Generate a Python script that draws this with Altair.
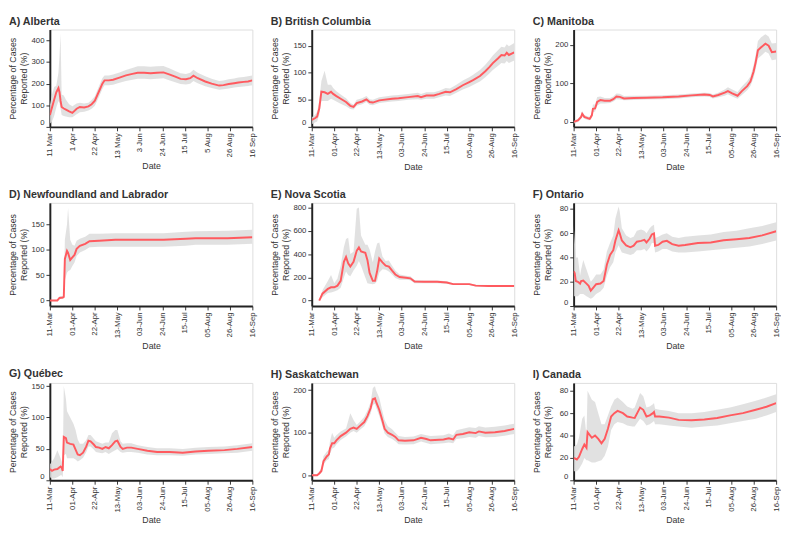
import altair as alt
import pandas as pd

YEAR = 2020
X_START = (3, 11)
X_END = (9, 16)
TICK_DATES = [(3, 11), (4, 1), (4, 22), (5, 13), (6, 3), (6, 24), (7, 15), (8, 5), (8, 26), (9, 16)]
Y_TITLE = ["Percentage of Cases", "Reported (%)"]

# ---------------- A) Alberta ----------------
ab_dates = ["03-11", "03-13", "03-15", "03-17", "03-19", "03-20", "03-21", "03-22", "03-24", "03-26", "03-29",
            "04-01", "04-05", "04-08", "04-12", "04-16", "04-19", "04-22", "04-26", "04-29",
            "05-01", "05-05", "05-09", "05-15", "05-21", "05-27",
            "06-01", "06-07", "06-13", "06-19", "06-25",
            "07-01", "07-06", "07-11", "07-16", "07-20", "07-23", "07-27",
            "08-03", "08-09", "08-16", "08-20", "08-25", "08-30",
            "09-03", "09-08", "09-12", "09-16"]
ab_mean = [55, 90, 125, 160, 180, 160, 120, 92, 85, 80, 72,
           65, 84, 92, 90, 95, 105, 121, 166, 200,
           215, 215, 218, 228, 238, 245,
           250, 250, 248, 250, 252,
           242, 232, 222, 220, 225, 237, 225,
           210, 200, 191, 193, 198, 202,
           205, 208, 210, 215]
ab_lo = [15, 25, 50, 90, 120, 110, 85, 55, 50, 48, 45,
         45, 58, 68, 70, 76, 84, 98, 140, 175,
         192, 192, 195, 204, 212, 218,
         222, 222, 220, 222, 225,
         215, 206, 198, 196, 200, 212, 202,
         188, 180, 172, 174, 178, 182,
         184, 187, 189, 193]
ab_hi = [100, 150, 185, 190, 250, 330, 430, 150, 145, 125, 105,
         95, 108, 112, 108, 112, 124, 142, 190, 225,
         238, 238, 242, 252, 263, 272,
         280, 280, 278, 280, 282,
         270, 258, 248, 245, 250, 264, 250,
         234, 222, 212, 214, 220, 224,
         228, 231, 234, 238]

# ---------------- B) British Columbia ----------------
bc_dates = ["03-11", "03-14", "03-16", "03-18", "03-20", "03-23", "03-26", "03-29", "03-31",
            "04-03", "04-07", "04-12", "04-16", "04-19", "04-22", "04-27",
            "05-01", "05-04", "05-07", "05-13", "05-25", "05-31",
            "06-09", "06-18", "06-21", "06-26",
            "07-03", "07-08", "07-14", "07-18", "07-24", "07-30",
            "08-05", "08-09", "08-15", "08-20", "08-24", "08-27",
            "09-01", "09-04", "09-07", "09-09", "09-11", "09-16"]
bc_mean = [13, 16, 19, 34, 65, 64, 61, 65, 61,
           57, 52, 46, 39, 37, 44, 47,
           51, 46, 45, 49, 52, 53,
           55, 57, 55, 58,
           58, 61, 65, 64, 70, 77,
           83, 87, 94, 103, 111, 118,
           127, 133, 132, 137, 133, 138]
bc_lo = [5, 8, 10, 22, 48, 48, 48, 52, 50,
         47, 43, 38, 33, 32, 39, 42,
         46, 41, 40, 44, 47, 48,
         50, 51, 50, 52,
         52, 55, 58, 57, 63, 69,
         74, 78, 84, 92, 99, 105,
         113, 118, 117, 122, 118, 123]
bc_hi = [18, 22, 28, 48, 85, 104, 78, 78, 72,
         66, 60, 53, 44, 41, 50, 53,
         57, 51, 50, 55, 58, 59,
         61, 63, 61, 64,
         64, 67, 72, 71, 78, 86,
         92, 97, 105, 115, 124, 132,
         142, 148, 147, 153, 149, 155]

# ---------------- C) Manitoba ----------------
mb_dates = ["03-11", "03-15", "03-18", "03-19", "03-21", "03-24", "03-26", "03-28", "03-29", "03-31",
            "04-02", "04-05", "04-09", "04-14", "04-17", "04-20", "04-23", "04-27",
            "05-06", "05-18",
            "06-02", "06-17", "06-29",
            "07-11", "07-16", "07-19", "07-24", "07-30",
            "08-02", "08-06", "08-11", "08-15", "08-20", "08-23", "08-26", "08-28", "08-30",
            "09-02", "09-06", "09-09", "09-12", "09-16"]
mb_mean = [0, 4, 13, 21, 13, 10, 8, 17, 34, 35,
           52, 57, 55, 55, 59, 66, 65, 61,
           62, 63,
           64, 66, 69,
           71, 70, 66, 70, 76,
           80, 74, 68, 80, 93, 105, 131, 156, 186,
           194, 203, 198, 181, 183]
mb_lo = [-5, 0, 8, 15, 8, 5, 4, 10, 25, 27,
         42, 48, 48, 49, 53, 59, 58, 56,
         57, 58,
         59, 61, 64,
         66, 65, 61, 64, 68,
         72, 66, 60, 70, 82, 93, 115, 138, 165,
         172, 182, 178, 160, 162]
mb_hi = [2, 8, 18, 28, 18, 15, 12, 25, 45, 45,
         65, 66, 62, 62, 66, 74, 73, 67,
         68, 68,
         69, 71, 74,
         76, 75, 71, 76, 84,
         90, 84, 78, 92, 106, 118, 148, 175, 210,
         220, 228, 222, 204, 205]

# ---------------- D) Newfoundland and Labrador ----------------
nl_dates = ["03-11", "03-18", "03-20", "03-23", "03-24", "03-25", "03-27", "03-28", "03-30",
            "04-01", "04-03", "04-05", "04-08", "04-13", "04-17", "04-26",
            "05-11", "06-01", "06-25", "07-16", "07-25", "08-24", "09-16"]
nl_mean = [0, 0, 5, 6, 7, 82, 98, 94, 80,
           85, 90, 102, 108, 112, 117, 118,
           120, 120, 120, 122, 123, 123, 125]
nl_lo = [0, 0, 3, 3, 4, 40, 55, 58, 60,
         68, 75, 88, 95, 100, 105, 106,
         106, 106, 106, 108, 110, 110, 112]
nl_hi = [1, 1, 8, 9, 10, 120, 150, 183, 120,
         110, 108, 118, 122, 126, 132, 132,
         133, 133, 133, 136, 137, 138, 140]

# ---------------- E) Nova Scotia ----------------
ns_dates = ["03-18", "03-21", "03-26", "03-29",
            "04-01", "04-04", "04-07", "04-10", "04-12", "04-14", "04-16", "04-19", "04-22", "04-24", "04-26", "04-30",
            "05-02", "05-04", "05-07", "05-09", "05-11", "05-13", "05-16", "05-19", "05-22", "05-25", "05-28",
            "06-01", "06-07", "06-11", "06-15", "06-24",
            "07-06", "07-15", "07-21",
            "08-05", "08-11", "08-23",
            "09-16"]
ns_mean = [0, 60, 101, 115,
           115, 129, 170, 334, 375, 320, 293, 334, 430, 458, 422, 411,
           348, 238, 170, 170, 252, 362, 329, 301, 293, 258, 225,
           203, 197, 192, 164, 162,
           162, 156, 142,
           142, 129, 126,
           126]
ns_lo = [0, 30, 65, 70,
         78, 90, 110, 200, 250, 220, 210, 260, 300, 340, 300, 200,
         150, 145, 140, 145, 170, 240, 270, 265, 250, 225, 195,
         180, 180, 175, 150, 150,
         150, 145, 134,
         134, 121, 118,
         118]
ns_hi = [0, 90, 170, 220,
         150, 190, 300, 460, 530, 540, 400, 420, 790, 800, 560, 480,
         480, 440, 330, 420, 490, 500, 380, 340, 345, 300, 260,
         225, 215, 210, 178, 174,
         174, 167, 150,
         150, 137, 134,
         134]

# ---------------- F) Ontario ----------------
on_dates = ["03-11", "03-12", "03-13", "03-15", "03-17", "03-18", "03-20", "03-23", "03-25", "03-27", "03-29",
            "04-01", "04-05", "04-08", "04-11", "04-14", "04-17", "04-19", "04-22", "04-23", "04-25", "04-29",
            "05-03", "05-06", "05-09", "05-13", "05-16", "05-18", "05-21", "05-23", "05-25", "05-26", "05-29",
            "06-02", "06-06", "06-11", "06-17", "06-23",
            "07-05", "07-17", "07-29",
            "08-10", "08-22",
            "09-03", "09-16"]
on_mean = [28.6, 27, 20.6, 20, 18.5, 20.6, 21, 18.5, 16.7, 12.7, 14.8,
           18, 18.5, 20.6, 34, 42, 46, 54, 62.4, 60, 54, 50,
           48.4, 49.7, 53, 53.7, 54.5, 52.4, 55.6, 59, 59.8, 49.7, 50.3,
           53, 53.7, 51, 49.7, 50.3,
           51.9, 52.4, 54.2,
           55, 56,
           58.2, 61.6]
on_lo = [8, 8, 8, 8, 10, 10, 10, 8, 7, 6, 7,
         10, 12, 15, 25, 32, 36, 44, 50, 48, 44, 43,
         42, 43, 46, 46, 47, 45, 48, 52, 52, 44, 45,
         47, 47, 45, 44, 44,
         45, 46, 47,
         48, 49,
         51, 54]
on_hi = [67, 55, 40, 40, 25, 30, 38, 30, 25, 20, 22,
         26, 26, 30, 45, 52, 58, 72, 82, 78, 64, 58,
         56, 57, 62, 63, 62, 60, 64, 66, 67, 56, 57,
         59, 60, 57, 56, 57,
         58, 59, 61,
         62, 64,
         66, 69]

# ---------------- G) Québec ----------------
qc_dates = ["03-11", "03-13", "03-15", "03-18", "03-21", "03-22", "03-23", "03-24", "03-26", "03-27", "03-30",
            "04-02", "04-04", "04-06", "04-08", "04-11", "04-14", "04-16", "04-18", "04-21", "04-23", "04-26", "04-29",
            "05-02", "05-05", "05-08", "05-11", "05-13", "05-16", "05-18", "05-22", "05-26",
            "06-01", "06-10", "06-19",
            "07-01", "07-13", "07-25",
            "08-06", "08-21",
            "09-02", "09-16"]
qc_mean = [18, 15, 17, 18, 22, 20, 15, 69, 67, 60, 58,
           57, 49, 41, 40, 44, 54, 63, 62, 57, 53, 52, 50,
           53, 51, 56, 62, 63, 53, 50, 52, 52,
           50, 47, 45,
           45, 44, 46,
           47, 48,
           50, 53]
qc_lo = [5, 3, 3, 5, 8, 8, 5, 40, 42, 35, 35,
         35, 33, 30, 32, 36, 45, 54, 54, 49, 45, 44, 43,
         45, 42, 45, 48, 50, 45, 44, 45, 45,
         44, 41, 40,
         40, 39, 41,
         42, 43,
         44, 47]
qc_hi = [25, 30, 35, 48, 35, 30, 22, 150, 130, 110, 100,
         90, 80, 65, 58, 58, 64, 72, 72, 66, 62, 60, 58,
         60, 60, 75, 80, 80, 62, 58, 59, 59,
         56, 53, 51,
         51, 50, 52,
         53, 54,
         56, 59]

# ---------------- H) Saskatchewan ----------------
sk_dates = ["03-11", "03-16", "03-18", "03-20", "03-22", "03-25", "03-27", "03-28", "03-30",
            "04-01", "04-03", "04-07", "04-12", "04-16", "04-19", "04-22", "04-25", "04-29",
            "05-02", "05-05", "05-07", "05-09", "05-10", "05-13", "05-16", "05-18", "05-21", "05-25", "05-28", "05-31",
            "06-06", "06-14", "06-21", "06-26", "06-30",
            "07-12", "07-17", "07-21", "07-24", "07-30",
            "08-05", "08-11", "08-14", "08-20", "08-29",
            "09-07", "09-16"]
sk_mean = [0, 0, 4, 10, 33, 44, 49, 63, 75,
           75, 82, 92, 100, 109, 112, 109, 116, 125,
           139, 158, 179, 181, 173, 154, 128, 109, 100, 95, 90, 82,
           81, 82, 88, 85, 82,
           84, 87, 84, 95, 97,
           101, 99, 103, 100, 101,
           104, 109]
sk_lo = [0, 0, 2, 6, 25, 35, 38, 50, 62,
         65, 72, 83, 91, 100, 104, 100, 107, 115,
         128, 145, 165, 168, 160, 140, 115, 98, 90, 85, 80, 73,
         72, 73, 79, 76, 73,
         75, 77, 75, 85, 87,
         90, 88, 92, 89, 90,
         93, 97]
sk_hi = [2, 2, 8, 18, 45, 55, 60, 80, 100,
         88, 94, 103, 110, 146, 130, 118, 126, 137,
         152, 172, 205, 209, 200, 182, 150, 130, 115, 108, 100, 92,
         90, 91, 97, 94, 92,
         94, 98, 94, 106, 109,
         113, 111, 115, 112, 114,
         117, 121]

# ---------------- I) Canada ----------------
ca_dates = ["03-11", "03-14", "03-16", "03-19", "03-21", "03-23", "03-24", "03-28", "03-31",
            "04-03", "04-06", "04-09", "04-12", "04-15", "04-18", "04-21", "04-26", "04-30",
            "05-05", "05-07", "05-12", "05-15", "05-18", "05-21", "05-24", "05-25", "05-26", "05-30",
            "06-08", "06-17", "06-29",
            "07-11", "07-23",
            "08-04", "08-16", "08-28",
            "09-07", "09-16"]
ca_mean = [20, 18.6, 21, 28, 32, 29, 43, 38, 40,
           37, 33, 37, 46, 57, 60, 62, 60, 57,
           56, 55.7, 65, 63, 57, 58, 60, 61, 57, 57,
           56, 54, 53.7,
           54.3, 55.7,
           58, 60, 63,
           65.7, 69]
ca_lo = [8, 8, 10, 15, 20, 18, 18, 16, 16,
         17, 18, 22, 30, 45, 50, 52, 51, 49,
         48, 48, 55, 53, 49, 50, 52, 53, 50, 50,
         49, 48, 47,
         48, 49,
         51, 53, 55,
         58, 61]
ca_hi = [30, 32, 38, 55, 58, 40, 80, 72, 70,
         60, 50, 50, 58, 66, 72, 74, 70, 66,
         64, 65, 78, 75, 65, 66, 68, 69, 64, 63,
         62, 60, 60,
         61, 63,
         65, 68, 71,
         74, 77]

PLOT_W = 208
ROW_H = [100, 106, 100]


def dt(m, d):
    return alt.DateTime(year=YEAR, month=m, date=d, utc=True)


def panel(title, dates, mean, lo, hi, ydomain, yticks, xfmt, height):
    df = pd.DataFrame({"date": [f"{YEAR}-{d}" for d in dates],
                       "mean": mean, "lo": lo, "hi": hi})
    xenc = alt.X(
        "date:T",
        scale=alt.Scale(type="utc", domain=[dt(*X_START), dt(*X_END)]),
        axis=alt.Axis(values=[dt(m, d) for m, d in TICK_DATES],
                      labelExpr=f"utcFormat(datum.value, '{xfmt}')",
                      labelAngle=270, title="Date",
                      labelFlush=True, grid=False),
    )
    yscale = alt.Scale(domain=ydomain, nice=False, zero=False)
    yaxis = alt.Axis(values=yticks, title=Y_TITLE, labelFlush=True, grid=False,
                     minExtent=18, maxExtent=18, titlePadding=4)
    base = alt.Chart(df)
    band = base.mark_area(color="#dcdcdc", opacity=0.85, clip=True).encode(
        x=xenc, y=alt.Y("lo:Q", scale=yscale, axis=yaxis), y2="hi:Q")
    line = base.mark_line(color="#ff5a5f", strokeWidth=2, clip=True).encode(
        x=xenc, y=alt.Y("mean:Q", scale=yscale, axis=yaxis))
    return alt.layer(band, line).properties(
        width=PLOT_W, height=height,
        title=alt.TitleParams(title, anchor="start", fontSize=11, fontWeight="bold",
                              color="#333333", offset=3))


DM = "%d-%b"
rows = [
    [panel("A) Alberta", ab_dates, ab_mean, ab_lo, ab_hi, [0, 450], [0, 100, 200, 300, 400], "%-d %b", ROW_H[0]),
     panel("B) British Columbia", bc_dates, bc_mean, bc_lo, bc_hi, [0, 180], [0, 50, 100, 150], DM, ROW_H[0]),
     panel("C) Manitoba", mb_dates, mb_mean, mb_lo, mb_hi, [-13, 240], [0, 100, 200], DM, ROW_H[0])],
    [panel("D) Newfoundland and Labrador", nl_dates, nl_mean, nl_lo, nl_hi, [-11, 193], [0, 50, 100, 150], DM, ROW_H[1]),
     panel("E) Nova Scotia", ns_dates, ns_mean, ns_lo, ns_hi, [-46, 840], [0, 200, 400, 600, 800], DM, ROW_H[1]),
     panel("F) Ontario", on_dates, on_mean, on_lo, on_hi, [0, 85], [0, 20, 40, 60, 80], DM, ROW_H[1])],
    [panel("G) Québec", qc_dates, qc_mean, qc_lo, qc_hi, [0, 155], [0, 50, 100, 150], DM, ROW_H[2]),
     panel("H) Saskatchewan", sk_dates, sk_mean, sk_lo, sk_hi, [-12, 217], [0, 100, 200], DM, ROW_H[2]),
     panel("I) Canada", ca_dates, ca_mean, ca_lo, ca_hi, [0, 87], [0, 20, 40, 60, 80], DM, ROW_H[2])],
]

chart = alt.VConcatChart(
    vconcat=[alt.HConcatChart(hconcat=r, spacing=13) for r in rows],
    spacing=16,
    padding=0,
).configure(font="Liberation Sans").configure_axis(
    domainColor="#222222", domainWidth=2, tickColor="#333333", tickSize=4,
    labelColor="#333333", titleColor="#333333", labelFontSize=8, titleFontSize=9,
    titleFontWeight="normal", labelPadding=2, titleLineHeight=11,
).configure_view(stroke="#dddddd", strokeWidth=1)

chart.save("out.html", embed_options={"renderer": "svg", "actions": False})
